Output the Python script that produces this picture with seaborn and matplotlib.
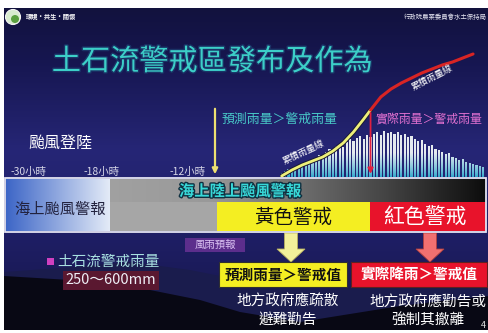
import numpy as np
import matplotlib
matplotlib.use("Agg")
import matplotlib.pyplot as plt
import seaborn as sns
from matplotlib.patches import Rectangle, PathPatch, Polygon, Circle
from matplotlib.path import Path
import matplotlib.patheffects as pe

sns.set_theme(style="white")
plt.rcParams['font.family'] = ['Noto Sans CJK TC', 'DejaVu Sans']

# ---- data -------------------------------------------------------------
# hourly rainfall (mm/hr) during the typhoon passage
hour = list(range(60))
rain_mm = [4, 6, 8, 7, 10, 12, 11, 14, 16, 15,
           19, 22, 21, 25, 28, 27, 31, 33, 30, 35,
           38, 36, 39, 41, 38, 42, 40, 43, 45, 42,
           46, 44, 45, 43, 45, 42, 43, 40, 41, 38,
           36, 37, 33, 31, 32, 28, 27, 25, 23, 24,
           20, 19, 17, 18, 15, 14, 13, 12, 11, 10]

# accumulated rainfall (mm): forecast part and observed part
forecast_hour = [0, 3, 6, 9, 12, 15, 18, 21, 24, 26]
forecast_cum = [5, 35, 60, 80, 100, 130, 170, 225, 290, 335]
observed_hour = [26, 29, 32, 35, 38, 41, 44, 47, 50, 53, 56]
observed_cum = [335, 400, 440, 470, 495, 520, 540, 560, 575, 595, 615]
alert_hour = 26

timeline_labels = ['-30小時', '-18小時', '-12小時']
timeline_x = [28, 102, 188]

W, H = 489, 333
fig = plt.figure(figsize=(W / 100, H / 100), dpi=100)
fig.patch.set_facecolor('white')

# ---- background layer (pixel coordinates) ----------------------------
bg = fig.add_axes([0, 0, 1, 1], zorder=0)
ys = np.linspace(8, 330, 240)
stop_y = [8, 60, 150, 240, 330]
stop_c = np.array([[18, 18, 62], [22, 22, 80], [38, 38, 118],
                   [30, 30, 100], [22, 22, 72]]) / 255
cols = np.stack([np.interp(ys, stop_y, stop_c[:, k]) for k in range(3)], axis=-1)
bg.imshow(cols[:, None, :], extent=(4, W, 330, 8), aspect='auto',
          origin='upper', zorder=0)
# mountain silhouettes
bg.add_patch(Polygon([(4, 272), (60, 268), (130, 262), (190, 270), (250, 282),
                      (320, 290), (380, 286), (440, 280), (489, 276),
                      (489, 330), (4, 330)], closed=True,
                     facecolor=(0.10, 0.11, 0.30), edgecolor='none', zorder=1))
bg.add_patch(Polygon([(4, 276), (70, 280), (140, 288), (200, 300), (240, 312),
                      (300, 322), (350, 314), (400, 306), (450, 300),
                      (489, 296), (489, 330), (4, 330)], closed=True,
                     facecolor=(0.03, 0.03, 0.08), edgecolor='none', zorder=2))
bg.set_xlim(0, W)
bg.set_ylim(H, 0)
bg.axis('off')

# ---- rainfall chart ---------------------------------------------------
ax = fig.add_axes([280 / W, (H - 177) / H, 205 / W, 127 / H], zorder=1)
ax.patch.set_alpha(0)
sns.barplot(x=hour, y=rain_mm, ax=ax, color='#e4ecf2', width=0.62,
            saturation=1, edgecolor='none')
bars = [p for p in ax.patches]
rects = [p.get_path().transformed(p.get_patch_transform()) for p in bars]
clip = PathPatch(Path.make_compound_path(*rects), transform=ax.transData,
                 facecolor='none', edgecolor='none')
gy = np.linspace(0, 127, 128)
g_top = np.array([0.90, 0.92, 0.94])
g_bot = np.array([0.20, 0.66, 0.80])
t = np.clip(gy / 24, 0, 1)[:, None] ** 0.8
grad = (g_bot * (1 - t) + g_top * t)[:, None, :]
im = ax.imshow(grad, extent=(-0.5, 59.5, 0, 127), origin='lower',
               aspect='auto', zorder=3)
im.set_clip_path(clip)
ax.set_xlim(-0.5, 59.5)
ax.set_ylim(0, 127)
ax.axis('off')

ax2 = ax.twinx()
ax2.set_zorder(2)
outline = [pe.Stroke(linewidth=3.4, foreground=(0.1, 0.1, 0.2)), pe.Normal()]
sns.lineplot(x=forecast_hour, y=forecast_cum, ax=ax2, color='#eef07a',
             linewidth=2.0, path_effects=outline)
sns.lineplot(x=observed_hour, y=observed_cum, ax=ax2, color='#d82424',
             linewidth=2.2)
ax2.annotate('', xy=(alert_hour, 2), xytext=(alert_hour, observed_cum[0]),
             arrowprops=dict(arrowstyle='-|>', color='#e02040', lw=1.3,
                             mutation_scale=8))
ax2.set_xlim(-0.5, 59.5)
ax2.set_ylim(0, 635)
ax2.axis('off')

# ---- foreground layer (pixel coordinates) ----------------------------
fg = fig.add_axes([0, 0, 1, 1], zorder=3)
fg.patch.set_alpha(0)
fg.set_xlim(0, W)
fg.set_ylim(H, 0)
fg.axis('off')

# header
fg.add_patch(Circle((13, 17), 7.5, facecolor='#d8ecd0', edgecolor='#f4f4f4', lw=0.8))
fg.add_patch(Circle((15, 19), 4, facecolor='#5aa040', edgecolor='none'))
fg.text(26, 17, '環境·共生·關懷', color='white', fontsize=4.5, va='center',
        fontweight='bold')
fg.text(487, 17, '行政院農業委員會水土保持局', color='#e8e8f4', fontsize=4.6,
        va='center', ha='right')
fg.text(212, 62, '土石流警戒區發布及作為', color='#3ccfc8', fontsize=21,
        ha='center', va='center',
        path_effects=[pe.withStroke(linewidth=2, foreground=(0.1, 0.2, 0.4))])

# annotations around the chart
fg.annotate('', xy=(215, 177), xytext=(215, 106),
            arrowprops=dict(arrowstyle='-|>', color='#eee070', lw=1.6,
                            mutation_scale=8))
fg.text(222, 119, '預測雨量＞警戒雨量', color='#48c8c8', fontsize=9.3,
        va='center', ha='left')
fg.text(375, 119, '實際雨量＞警戒雨量', color='#e070d0', fontsize=8.6,
        va='center', ha='left')
fg.text(432, 78, '累積雨量線', color='white', fontsize=6.5, rotation=27,
        ha='center', va='center')
fg.text(303, 152, '累積雨量線', color='white', fontsize=6.5, rotation=25,
        ha='center', va='center')
fg.text(60, 143, '颱風登陸', color='white', fontsize=11.5, ha='center',
        va='center')
for lab, x in zip(timeline_labels, timeline_x):
    fg.text(x, 172, lab, color='#d8d8e8', fontsize=7.5, ha='center', va='center')

# warning band
lg = np.linspace(0, 1, 100)[:, None]
c0 = np.array([0.24, 0.40, 0.78])
c1 = np.array([0.89, 0.92, 0.97])
fg.imshow((c0 * (1 - lg) + c1 * lg)[None, :, :], extent=(6, 110, 231, 179),
          aspect='auto', origin='upper', zorder=1)
xs = np.linspace(110, 486, 200)
gv = np.interp(xs, [110, 210, 380, 486], [0.63, 0.60, 0.28, 0.05])
fg.imshow(np.stack([gv, gv, gv], axis=-1)[None, :, :], extent=(110, 486, 202, 179),
          aspect='auto', origin='upper', zorder=1)
fg.add_patch(Rectangle((110, 202), 107, 29, facecolor='#a6a6a6', edgecolor='none', zorder=1))
fg.add_patch(Rectangle((217, 202), 153, 29, facecolor='#f4ee22', edgecolor='none', zorder=1))
fg.add_patch(Rectangle((370, 202), 116, 29, facecolor='#e8132b', edgecolor='none', zorder=1))
fg.add_patch(Rectangle((5, 178), 481, 54, facecolor='none', edgecolor='#e4e4f2',
                       lw=1.3, zorder=2))
fg.set_xlim(0, W)
fg.set_ylim(H, 0)

fg.text(60, 209, '海上颱風警報', color='#22223e', fontsize=11, ha='center',
        va='center', zorder=3)
fg.text(240, 191, '海上陸上颱風警報', color='#38d8d8', fontsize=11, ha='center',
        va='center', fontweight='bold', zorder=3,
        path_effects=[pe.withStroke(linewidth=2, foreground='#103040')])
fg.text(293, 217, '黃色警戒', color='#111111', fontsize=14, ha='center',
        va='center', zorder=3)
fg.text(425, 217, '紅色警戒', color='white', fontsize=15, ha='center',
        va='center', zorder=3)

# lower section
fg.add_patch(Rectangle((185, 238), 60, 14, facecolor='#5c2e8c', edgecolor='none'))
fg.text(215, 245, '風雨預報', color='#dcc4f4', fontsize=7.5, ha='center', va='center')


def block_arrow(cx, color, edge):
    pts = [(cx - 6.5, 233), (cx + 6.5, 233), (cx + 6.5, 249), (cx + 14, 249),
           (cx, 262), (cx - 14, 249), (cx - 6.5, 249)]
    fg.add_patch(Polygon(pts, closed=True, facecolor=color, edgecolor=edge, lw=0.6))


block_arrow(291, '#f2f09a', '#b8b060')
block_arrow(430, '#f07070', '#b04040')

fg.add_patch(Rectangle((47, 258), 7, 7, facecolor='#d040c0', edgecolor='none'))
fg.text(57, 262, '土石流警戒雨量', color='#a8e0e0', fontsize=10.5, ha='left',
        va='center')
fg.add_patch(Rectangle((63, 271), 96, 19, facecolor='#5a1830', edgecolor='none'))
fg.text(111, 280.5, '250～600mm', color='#eeeef6', fontsize=10.5, ha='center',
        va='center')

fg.add_patch(Rectangle((219, 262), 128, 25, facecolor='#f4ee22', edgecolor='#303030', lw=0.8))
fg.text(283, 275, '預測雨量＞警戒值', color='#111111', fontsize=10.5,
        ha='center', va='center', fontweight='bold')
fg.add_patch(Rectangle((351, 262), 136, 25, facecolor='#e8132b', edgecolor='#602020', lw=0.8))
fg.text(419, 275, '實際降雨＞警戒值', color='white', fontsize=10.5,
        ha='center', va='center', fontweight='bold')

fg.text(288, 302, '地方政府應疏散', color='white', fontsize=10.5, ha='center', va='center')
fg.text(288, 320, '避難勸告', color='white', fontsize=10.5, ha='center', va='center')
fg.text(428, 302, '地方政府應勸告或', color='white', fontsize=10.5, ha='center', va='center')
fg.text(428, 320, '強制其撤離', color='white', fontsize=10.5, ha='center', va='center')
fg.text(481, 326, '4', color='#e0e0e0', fontsize=6.5, ha='left', va='center')

fig.savefig('out.png', dpi=100, facecolor=fig.get_facecolor())
